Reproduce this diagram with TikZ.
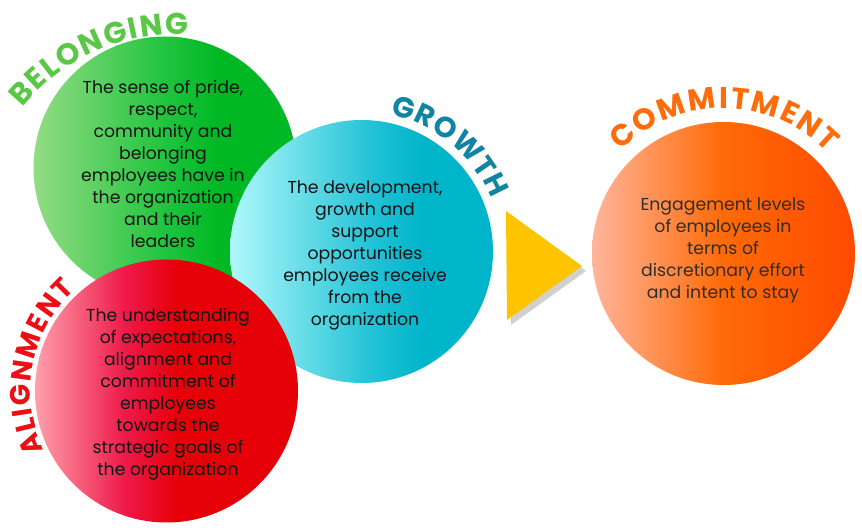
\documentclass[tikz,border=0pt]{standalone}
\usepackage{fontspec}
\setmainfont{Poppins}
\usetikzlibrary{decorations.text,shadows}
\definecolor{g0}{HTML}{94DC84}
\definecolor{g1}{HTML}{20C43E}
\definecolor{g2}{HTML}{00B824}
\definecolor{t0}{HTML}{B0F8FA}
\definecolor{t1}{HTML}{22C2D6}
\definecolor{t2}{HTML}{00B4CA}
\definecolor{r0}{HTML}{FFA0AC}
\definecolor{r1}{HTML}{EE1A4A}
\definecolor{r2}{HTML}{E60008}
\definecolor{o0}{HTML}{FFB59C}
\definecolor{o1}{HTML}{FF6A06}
\definecolor{o2}{HTML}{FF4A00}
\definecolor{cbelong}{HTML}{5AC846}
\definecolor{cgrowth}{HTML}{0F84A3}
\definecolor{calign}{HTML}{EC1016}
\definecolor{ccommit}{HTML}{FF6D0A}
\definecolor{ctri}{HTML}{FFC400}
\pgfdeclarehorizontalshading{greensh}{100bp}{color(0bp)=(g0); color(25bp)=(g0); color(50bp)=(g1); color(60bp)=(g2); color(100bp)=(g2)}
\pgfdeclarehorizontalshading{tealsh}{100bp}{color(0bp)=(t0); color(25bp)=(t0); color(52bp)=(t1); color(62bp)=(t2); color(100bp)=(t2)}
\pgfdeclarehorizontalshading{redsh}{100bp}{color(0bp)=(r0); color(25bp)=(r0); color(42bp)=(r1); color(52bp)=(r2); color(100bp)=(r2)}
\pgfdeclarehorizontalshading{orangesh}{100bp}{color(0bp)=(o0); color(25bp)=(o0); color(50bp)=(o1); color(75bp)=(o2); color(100bp)=(o2)}
\tikzset{
  disc/.style={circle, minimum size=263pt, inner sep=0pt},
  bodytext/.style={align=center, font=\fontsize{17.3}{22}\selectfont, text=black!92},
  titletext/.style={decorate, decoration={text along path, text align=fit to path, text={#1}}},
}
\newcommand{\ttl}[2]{\fontsize{#2}{#2}\selectfont\bfseries\color{#1}}
\begin{document}
\begin{tikzpicture}[x=1pt,y=1pt]
\useasboundingbox (0,0) rectangle (862,530);
\fill[white] (0,0) rectangle (862,530);
% circles
\node[disc, shading=greensh] (belong) at (165,362) {};
\node[disc, shading=tealsh] (growth) at (361.5,278.5) {};
\node[disc, shading=redsh] (align) at (166.5,139) {};
\node[disc, shading=orangesh] (commit) at (723.5,276.5) {};
% triangle
\path[fill=ctri, drop shadow={shadow xshift=4pt, shadow yshift=-5pt, opacity=0.3, fill=black!60}] (506,319) -- (582,264) -- (507,210) -- cycle;
% body texts
\node[bodytext] (belongtxt) at (163,366.5) {The sense of pride,\\respect,\\community and\\belonging\\employees have in\\the organization\\and their\\leaders};
\node[bodytext] (growthtxt) at (365,275) {The development,\\growth and\\support\\opportunities\\employees receive\\from the\\organization};
\node[bodytext] (aligntxt) at (168,135.5) {The understanding\\of expectations,\\alignment and\\commitment of\\employees\\towards the\\strategic goals of\\the organization};
\node[bodytext, text=black!82] (committxt) at (723,279.5) {Engagement levels\\of employees in\\terms of\\discretionary effort\\and intent to stay};
% titles
\path[titletext={|\ttl{cbelong}{30}|BELONGING}] (178,296) ++(141:200pt) arc[start angle=141, end angle=87, radius=200pt];
\path[titletext={|\ttl{cgrowth}{29}|GROWTH}] (361.5,278.5) ++(78:140pt) arc[start angle=78, end angle=22, radius=140pt];
\path[titletext={|\ttl{calign}{28}|ALIGNMENT}] (166.5,139) ++(206:136pt) arc[start angle=206, end angle=132, radius=136pt];
\path[titletext={|\ttl{ccommit}{30}|COMMITMENT}] (723.5,276.5) ++(135:145pt) arc[start angle=135, end angle=44, radius=145pt];
\end{tikzpicture}
\end{document}
